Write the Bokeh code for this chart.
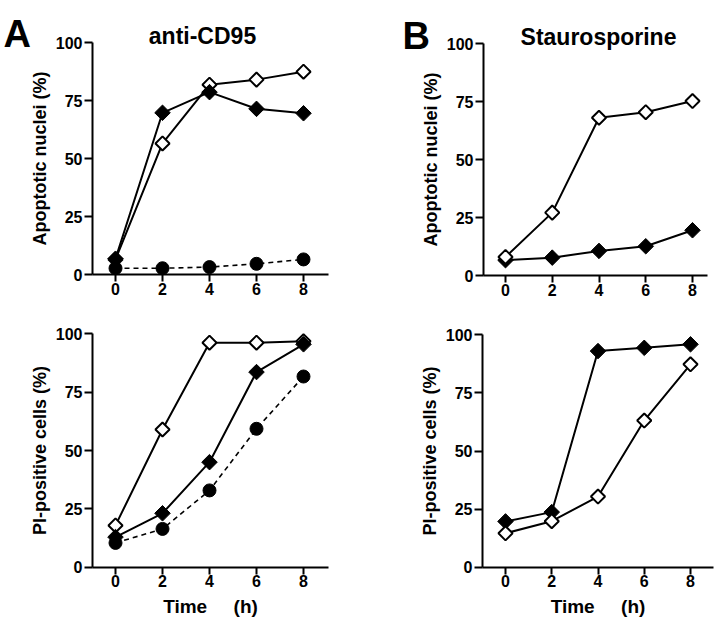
import math
from bokeh.plotting import figure
from bokeh.layouts import column, row
from bokeh.models import Range1d, FixedTicker, Label
from bokeh.embed import file_html
from bokeh.resources import INLINE

# ---- data ----
hours = [0, 2, 4, 6, 8]
y_ticks = [0, 25, 50, 75, 100]

a_apo_open = [6.5, 56.5, 81.8, 84.0, 87.4]
a_apo_filled = [6.8, 69.7, 78.6, 71.4, 69.5]
a_apo_circle = [2.7, 2.7, 3.2, 4.6, 6.5]

a_pi_open = [17.9, 59.0, 96.2, 96.2, 96.8]
a_pi_filled = [12.9, 23.1, 45.0, 83.6, 95.5]
a_pi_circle = [10.4, 16.4, 32.9, 59.3, 81.7]

b_apo_open = [8.0, 27.1, 68.0, 70.4, 75.2]
b_apo_filled = [6.6, 7.7, 10.6, 12.6, 19.5]

b_pi_open = [14.6, 19.8, 30.4, 63.1, 87.3]
b_pi_filled = [19.7, 23.7, 93.0, 94.4, 95.9]

ylab_apo = "Apoptotic nuclei (%)"
ylab_pi = "PI-positive cells (%)"
xlab = "Time\u00a0\u00a0\u00a0\u00a0\u00a0(h)"

FONT = "Liberation Sans"


def make_panel(left, top, w, h, x0, x8, y0, y100, ax_left, ax_right, ylabel, xlabel=None):
    """Figure whose frame fills the canvas; axes are pinned with fixed_location."""
    sx = (x8 - x0) / 8.0
    sy = (y0 - y100) / 100.0
    xr = Range1d((left - x0) / sx, (left + w - x0) / sx)
    yr = Range1d((y0 - (top + h)) / sy, (y0 - top) / sy)
    p = figure(width=w, height=h, x_range=xr, y_range=yr,
               output_backend="svg", toolbar_location=None, min_border=0)
    p.title.visible = False
    p.outline_line_color = None
    p.grid.visible = False
    p.background_fill_color = "white"
    p.border_fill_color = "white"

    xa_start = (ax_left - x0) / sx
    xa_end = (ax_right - x0) / sx
    p.xaxis.ticker = FixedTicker(ticks=hours)
    p.yaxis.ticker = FixedTicker(ticks=y_ticks)
    p.yaxis.bounds = (0, 100)
    p.xaxis.bounds = (xa_start, xa_end)
    p.yaxis.fixed_location = xa_start
    p.xaxis.fixed_location = 0

    for ax in (p.xaxis, p.yaxis):
        ax.axis_line_width = 2
        ax.axis_line_color = "black"
        ax.major_tick_line_width = 2
        ax.major_tick_line_color = "black"
        ax.major_tick_out = 8
        ax.major_tick_in = 0
        ax.minor_tick_line_color = None
        ax.major_label_text_font = FONT
        ax.major_label_text_font_style = "bold"
        ax.major_label_text_font_size = "16px"
        ax.major_label_text_color = "black"
        ax.axis_label_text_font = FONT
        ax.axis_label_text_font_style = "bold"
        ax.axis_label_text_color = "black"
    p.xaxis.major_tick_out = 7
    p.yaxis.major_label_standoff = 2
    p.xaxis.major_label_standoff = 1
    p.yaxis.axis_label = ylabel
    p.yaxis.axis_label_text_font_size = "18px"
    p.yaxis.axis_label_standoff = 3
    if xlabel:
        p.xaxis.axis_label = xlabel
        p.xaxis.axis_label_text_font_size = "19px"
        p.xaxis.axis_label_standoff = 5

    def put_text(px, py, text, size, align):
        p.add_layout(Label(x=(px - x0) / sx, y=(y0 - py) / sy, text=text,
                           text_font=FONT, text_font_style="bold",
                           text_font_size=size, text_color="black",
                           text_align=align, text_baseline="alphabetic"))
    return p, put_text


def open_diamonds(p, ys):
    p.line(hours, ys, line_color="black", line_width=2)
    p.scatter(hours, ys, marker="square", size=10, angle=math.pi / 4,
              fill_color="white", line_color="black", line_width=2)


def filled_diamonds(p, ys):
    p.line(hours, ys, line_color="black", line_width=2)
    p.scatter(hours, ys, marker="square", size=11, angle=math.pi / 4,
              fill_color="black", line_color="black", line_width=1)


def circles(p, ys):
    p.line(hours, ys, line_color="black", line_width=1.6, line_dash="5 4")
    p.scatter(hours, ys, marker="circle", size=13,
              fill_color="black", line_color="black")


# top-left : A, apoptotic nuclei
p1, t1 = make_panel(0, 0, 352, 310, 115, 303, 274, 42, 92, 328, ylab_apo)
open_diamonds(p1, a_apo_open)
filled_diamonds(p1, a_apo_filled)
circles(p1, a_apo_circle)
t1(3, 33, "A", "38px", "left")
t1(202, 35, "anti-CD95", "23px", "center")

# top-right : B, apoptotic nuclei
p2, t2 = make_panel(352, 0, 368, 310, 505, 692, 275, 43, 483, 707, ylab_apo)
filled_diamonds(p2, b_apo_filled)
open_diamonds(p2, b_apo_open)
t2(402, 35, "B", "38px", "left")
t2(598, 36, "Staurosporine", "23px", "center")

# bottom-left : A, PI-positive
p3, _ = make_panel(0, 310, 352, 311, 115, 303, 566.7, 333.3, 92, 328, ylab_pi, xlab)
open_diamonds(p3, a_pi_open)
filled_diamonds(p3, a_pi_filled)
circles(p3, a_pi_circle)

# bottom-right : B, PI-positive
p4, _ = make_panel(352, 310, 368, 311, 505, 690, 566.7, 334.3, 482, 713, ylab_pi, xlab)
filled_diamonds(p4, b_pi_filled)
open_diamonds(p4, b_pi_open)

layout = column(row(p1, p2), row(p3, p4))
open("out.html", "w").write(file_html(layout, INLINE))
